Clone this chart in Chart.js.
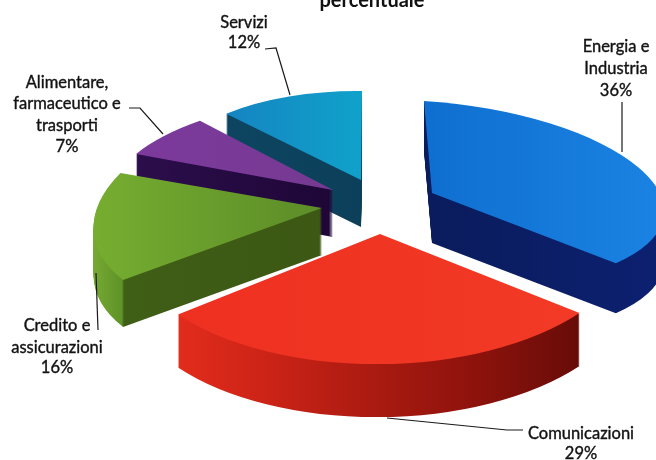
<!DOCTYPE html>
<html>
<head>
<meta charset="utf-8">
<script src="https://cdn.jsdelivr.net/npm/chart.js@4"></script>
<style>
html,body{margin:0;padding:0;background:#fff;overflow:hidden}
canvas{display:block;filter:blur(0.6px)}
</style>
</head>
<body>
<canvas id="c" width="656" height="460"></canvas>
<script>
const categories = ["Energia e Industria", "Comunicazioni", "Credito e assicurazioni", "Alimentare, farmaceutico e trasporti", "Servizi"];
const shares = [36, 29, 16, 7, 12];
const chartTitle = "percentuale";

/* ---- styling and layout, separate from the data ---- */
const topColors = ["#1477d6", "#f03222", "#6fa62e", "#7b3c99", "#1490c8"];
const topStops = [
  [[426, "#0f6fd0"], [655, "#1a82e2"]],
  [[178, "#ee3020"], [580, "#f23a26"]],
  [[90, "#76ae30"], [325, "#5c8c28"]],
  [[135, "#7c3a9c"], [330, "#763a92"]],
  [[226, "#1584c2"], [362, "#10a2ca"]]
];
const sideStops = [
  [[430, "#0a1c5c"], [655, "#0c2070"]],
  [[178, "#e22c1c"], [280, "#c82216"], [380, "#a81a10"], [480, "#8c120c"], [579, "#680c08"]],
  [[88, "#7aae34"], [122, "#5f9228"], [124, "#3f5e16"], [325, "#3c5814"]],
  [[130, "#2c0e4c"], [340, "#1e0636"]],
  [[225, "#0d4560"], [362, "#0c3f5a"]]
];
/* per-slice projection of the tilted pie: a b c d, apex x y, extrusion depth */
const frames = [
  [232, 8, 15, 92, 432, 193, 50],
  [254, 6, -5, 130, 380, 234, 53],
  [227, -26, -7, 113, 322, 208, 47],
  [222, -26, 2, 93, 333, 190, 47],
  [198, -1, 2, 89, 361, 180, 47]
];
const paintOrder = [4, 3, 0, 2, 1];
const labelFont = '16.5px Lato, "Open Sans", sans-serif';
const labelLayout = [
  {lines: ["Energia e", "Industria", "36%"], x: 616, y: [52, 74, 96], lead: [[622,102],[622,152]]},
  {lines: ["Comunicazioni", "29%"], x: 581, y: [439, 459], lead: [[523,430],[507,430],[387,418]]},
  {lines: ["Credito e", "assicurazioni", "16%"], x: 57, y: [331, 353, 373], lead: [[96,273],[98,330]]},
  {lines: ["Alimentare,", "farmaceutico e", "trasporti", "7%"], x: 67, y: [88, 109, 131, 152], lead: [[129,108],[140,108],[163,134]]},
  {lines: ["Servizi", "12%"], x: 244, y: [28, 48], lead: [[265,49],[276,48],[290,95]]}
];

function stopGradient(ctx, stops, f, arc) {
  const [a, b] = f;
  const R = arc.outerRadius, n = a * a + b * b;
  const first = stops[0][0], last = stops[stops.length - 1][0];
  const t0 = first - f[4], t1 = last - f[4];
  const g = ctx.createLinearGradient(
    arc.x + R * t0 * a / n, arc.y + R * t0 * b / n,
    arc.x + R * t1 * a / n, arc.y + R * t1 * b / n);
  stops.forEach(s => g.addColorStop((s[0] - first) / (last - first), s[1]));
  return g;
}

function paintSlice(ctx, arc, f, dy, fill) {
  const [a, b, c, d, ex, ey] = f;
  const R = arc.outerRadius;
  const saved = arc.options;
  arc.options = Object.assign({}, saved, {backgroundColor: fill, borderWidth: 0});
  ctx.save();
  ctx.translate(0, dy);
  ctx.transform(a / R, c / R, b / R, d / R,
    ex - (a * arc.x + b * arc.y) / R,
    ey - (c * arc.x + d * arc.y) / R);
  arc.draw(ctx);
  ctx.restore();
  arc.options = saved;
}

const tiltedPie = {
  id: "tiltedPie",
  beforeDatasetDraw(chart, args) {
    const ctx = chart.ctx, arcs = args.meta.data;
    paintOrder.forEach(i => {
      const f = frames[i], arc = arcs[i];
      const side = stopGradient(ctx, sideStops[i], f, arc);
      for (let dy = f[6]; dy >= 1; dy--) paintSlice(ctx, arc, f, dy, side);
      paintSlice(ctx, arc, f, 0, stopGradient(ctx, topStops[i], f, arc));
    });
    return false;
  },
  afterDatasetsDraw(chart) {
    const ctx = chart.ctx;
    ctx.save();
    ctx.textAlign = "center";
    ctx.textBaseline = "alphabetic";
    ctx.fillStyle = "#111";
    ctx.font = 'bold 20px Lato, "Open Sans", sans-serif';
    ctx.fillText(chartTitle, 372, 7);
    ctx.font = labelFont;
    ctx.strokeStyle = "#1a1a1a";
    labelLayout.forEach(l => {
      ctx.lineWidth = 0.4;
      l.lines.forEach((t, k) => {
        ctx.fillText(t, l.x, l.y[k]);
        ctx.strokeText(t, l.x, l.y[k]);
      });
      ctx.lineWidth = 1.2;
      ctx.beginPath();
      l.lead.forEach((p, k) => k ? ctx.lineTo(p[0], p[1]) : ctx.moveTo(p[0], p[1]));
      ctx.stroke();
    });
    ctx.restore();
  }
};

new Chart(document.getElementById("c"), {
  type: "pie",
  data: {
    labels: categories,
    datasets: [{data: shares, backgroundColor: topColors, borderWidth: 0}]
  },
  options: {
    responsive: false,
    animation: false,
    events: [],
    plugins: {legend: {display: false}, title: {display: false}, tooltip: {enabled: false}}
  },
  plugins: [tiltedPie]
});
</script>
</body>
</html>
